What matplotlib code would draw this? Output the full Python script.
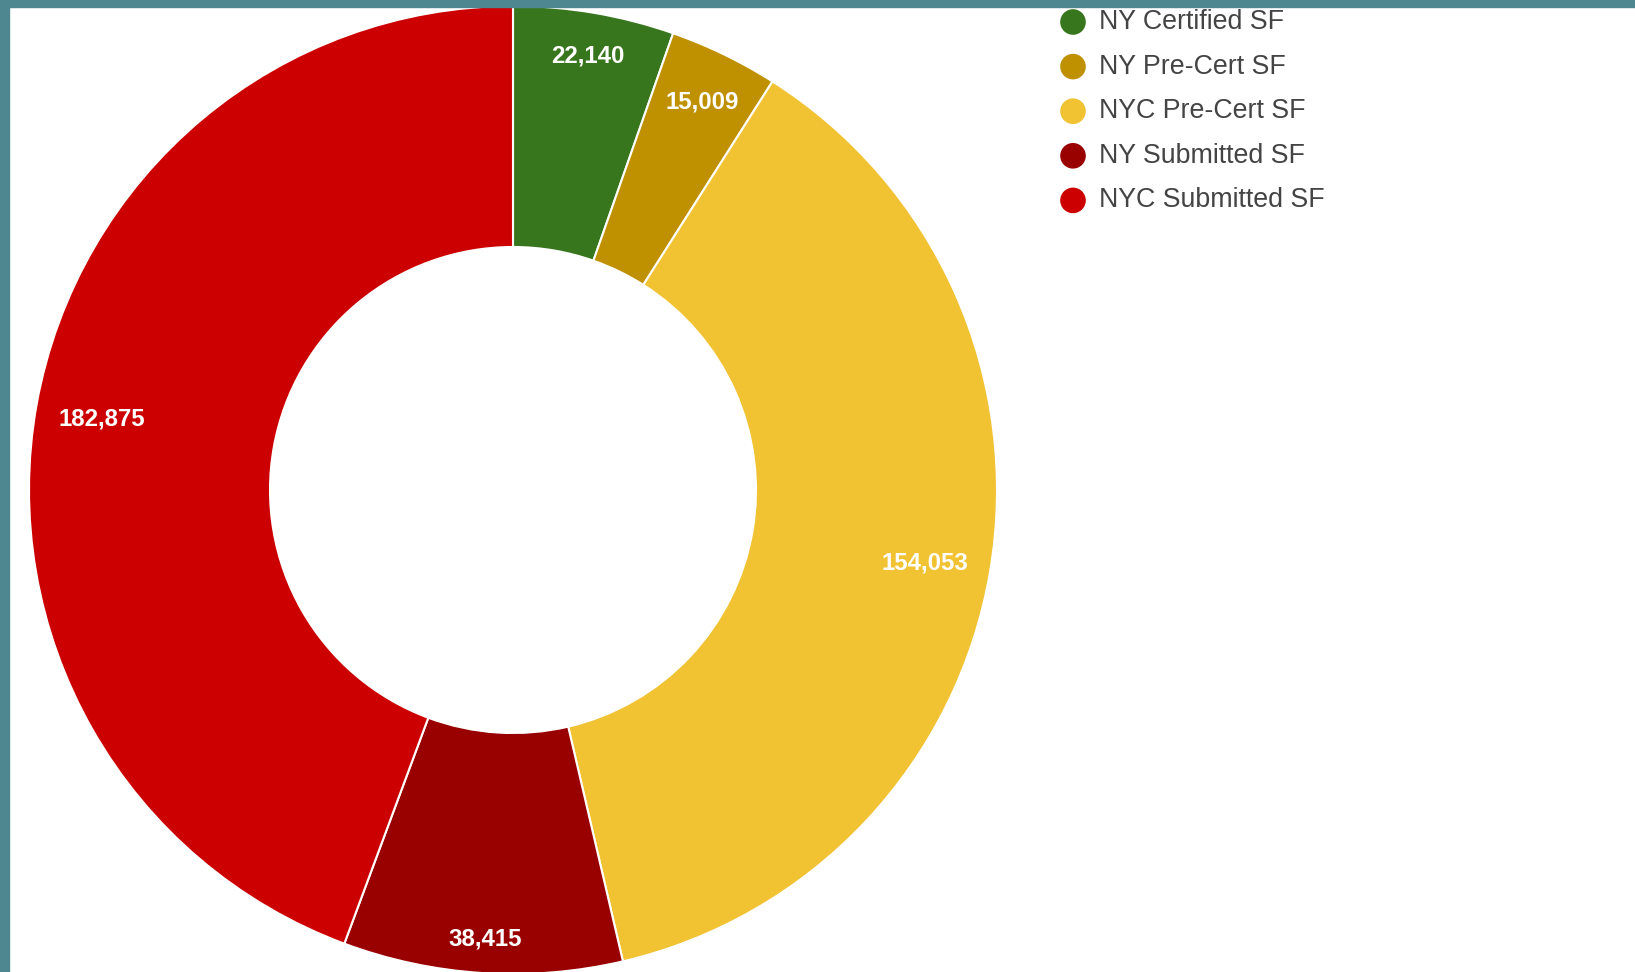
import numpy as np
import matplotlib
matplotlib.use("Agg")
import matplotlib.pyplot as plt
from matplotlib.patches import Rectangle

# Square footage by certification status
categories = ["NY Certified SF", "NY Pre-Cert SF", "NYC Pre-Cert SF",
              "NY Submitted SF", "NYC Submitted SF"]
values = [22140, 15009, 154053, 38415, 182875]
colors = ["#38761d", "#bf9000", "#f1c232", "#990000", "#cc0000"]

W, H = 1635, 972
fig = plt.figure(figsize=(W / 100, H / 100), dpi=100)
fig.patch.set_facecolor("white")
ax = fig.add_axes([0, 0, 1, 1])

cx, cy = 513, H - 490
R_out, R_in = 484, 243

wedges, _ = ax.pie(values, colors=colors, startangle=90, counterclock=False,
                   center=(cx, cy), radius=R_out, frame=True,
                   wedgeprops=dict(width=R_out - R_in, edgecolor="white",
                                   linewidth=1.5))
ax.set_xlim(0, W)
ax.set_ylim(0, H)
ax.axis("off")

# Slice value labels, pushed out towards the rim so the text box stays inside
total = float(sum(values))
cum = np.cumsum([0] + values[:-1])
fig.canvas.draw()
renderer = fig.canvas.get_renderer()
pad = 21
for v, c0 in zip(values, cum):
    theta = np.deg2rad((c0 + v / 2) / total * 360)
    t = ax.text(0, 0, f"{v:,}", color="white", fontsize=17.3,
                fontweight="bold", family="Liberation Sans",
                ha="center", va="center")
    bb = t.get_window_extent(renderer)
    hw, hh = bb.width / 2, bb.height / 2 * 0.8 + 5
    ext = abs(np.sin(theta)) * hw + abs(np.cos(theta)) * hh
    r = R_out - pad - ext
    t.set_position((cx + r * np.sin(theta), cy + r * np.cos(theta) - 3))

# Legend
leg_x, leg_tx = 1073, 1099
leg_y0, leg_dy = 22, 44.6
for i, (lab, col) in enumerate(zip(categories, colors)):
    y = H - (leg_y0 + i * leg_dy)
    ax.scatter([leg_x], [y], s=340, color=col, edgecolors="none",
               clip_on=False, zorder=5)
    ax.text(leg_tx, y, lab, fontsize=19.3, color="#444444",
            family="Liberation Sans", ha="left", va="center")

# Frame strips along the top and left edges
frame_col = "#4e8790"
fig.patches.append(Rectangle((0, 1 - 7 / H), 1, 7 / H, transform=fig.transFigure,
                             color=frame_col, zorder=10))
fig.patches.append(Rectangle((0, 0), 9 / W, 1, transform=fig.transFigure,
                             color=frame_col, zorder=10))

fig.savefig("out.png", dpi=100, facecolor="white")
